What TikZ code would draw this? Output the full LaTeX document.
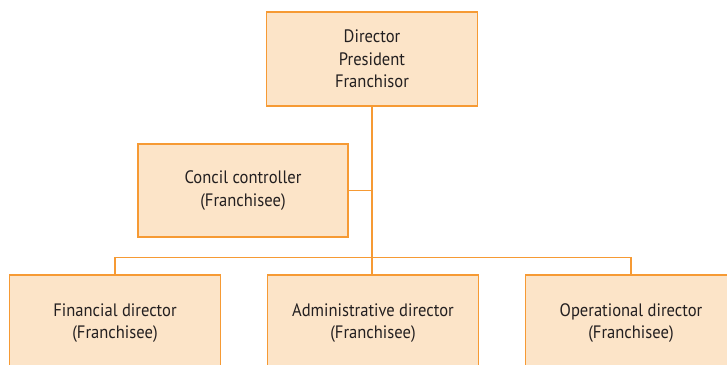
\documentclass[tikz,border=0pt]{standalone}
\usepackage{fontspec}
\setmainfont[FakeStretch=0.92]{PT Sans}
\definecolor{boxfill}{RGB}{252,228,200}
\definecolor{boxline}{RGB}{246,154,52}
\definecolor{txt}{RGB}{35,31,32}
\begin{document}
\begin{tikzpicture}[x=1pt,y=-1pt,
  orgbox/.style={draw=boxline,fill=boxfill,line width=1.4pt,
    minimum width=#1,inner sep=0pt,align=center,text=txt,
    font=\fontsize{18}{22.5}\selectfont},
  conn/.style={draw=boxline,line width=1.4pt}]
\useasboundingbox (0,0) rectangle (727,364);
\clip (0,0) rectangle (727,364);
\node[orgbox=211pt,minimum height=94pt] (top) at (372,59) {Director\\President\\Franchisor};
\node[orgbox=210pt,minimum height=93pt] (mid) at (243,190.5) {Concil controller\\(Franchisee)};
\node[orgbox=211pt,minimum height=96pt] (fin) at (115,323) {Financial director\\(Franchisee)};
\node[orgbox=211pt,minimum height=96pt] (adm) at (373,323) {Administrative director\\(Franchisee)};
\node[orgbox=211pt,minimum height=96pt] (ope) at (631,323) {Operational director\\(Franchisee)};
\coordinate (bus) at (0,257.7);
\draw[conn] (top.south) -- (top.south |- adm.north);
\draw[conn] (mid.east) -- (mid.east -| top.south);
\draw[conn] (fin.north) |- (bus -| top.south) -| (ope.north);
\end{tikzpicture}
\end{document}
